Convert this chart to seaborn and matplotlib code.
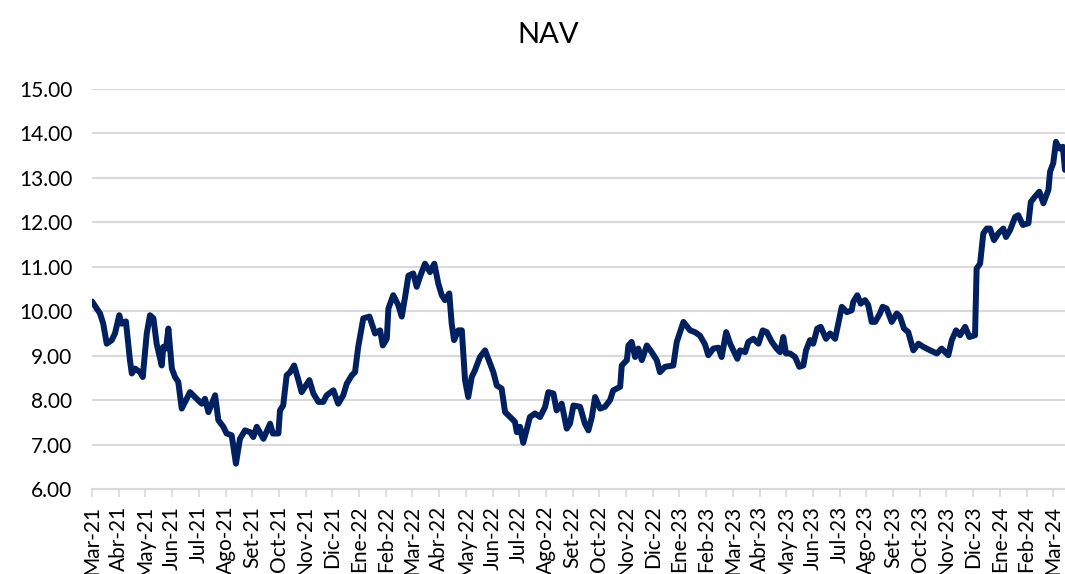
import pandas as pd
import seaborn as sns
import matplotlib.pyplot as plt

# -------------------- data -------------------- #
# x position in months since Mar-21, NAV value
months = [
    0.00, 0.30, 0.42, 0.55, 0.74, 0.86, 1.02, 1.11, 1.27, 1.42, 1.49, 1.61, 1.80, 1.90,
    2.05, 2.17, 2.30, 2.42, 2.61, 2.67, 2.77, 2.86, 2.99, 3.11, 3.23, 3.36, 3.67, 3.92,
    4.11, 4.23, 4.36, 4.61, 4.73, 4.92, 5.04, 5.23, 5.39, 5.54, 5.73, 5.92, 6.04, 6.17,
    6.42, 6.67, 6.77, 6.98, 7.04, 7.16, 7.29, 7.42, 7.57, 7.73, 7.85, 7.98, 8.14, 8.29,
    8.48, 8.66, 8.79, 9.04, 9.22, 9.41, 9.54, 9.73, 9.85, 9.97, 10.16, 10.39, 10.60, 10.79,
    10.89, 11.04, 11.10, 11.28, 11.47, 11.60, 11.72, 11.85, 12.03, 12.16, 12.28, 12.47,
    12.66, 12.82, 12.97, 13.10, 13.22, 13.38, 13.47, 13.56, 13.72, 13.85, 13.97, 14.09,
    14.22, 14.34, 14.53, 14.72, 14.84, 15.03, 15.16, 15.34, 15.47, 15.66, 15.84, 15.91,
    16.03, 16.15, 16.40, 16.59, 16.78, 16.97, 17.09, 17.28, 17.40, 17.59, 17.78, 17.90,
    18.03, 18.28, 18.46, 18.59, 18.72, 18.84, 19.03, 19.21, 19.40, 19.52, 19.78, 19.84,
    20.03, 20.09, 20.21, 20.34, 20.46, 20.59, 20.78, 20.96, 21.15, 21.27, 21.46, 21.77,
    21.90, 22.15, 22.40, 22.58, 22.77, 22.96, 23.08, 23.27, 23.46, 23.58, 23.75, 23.90,
    24.02, 24.17, 24.27, 24.46, 24.58, 24.77, 24.96, 25.12, 25.27, 25.46, 25.64, 25.77,
    25.89, 25.99, 26.14, 26.33, 26.49, 26.64, 26.74, 26.89, 27.01, 27.16, 27.29, 27.49,
    27.64, 27.83, 27.95, 28.08, 28.27, 28.45, 28.51, 28.66, 28.79, 28.95, 29.07, 29.20,
    29.33, 29.51, 29.61, 29.76, 29.95, 30.14, 30.26, 30.41, 30.57, 30.76, 30.95, 31.13,
    31.39, 31.64, 31.82, 32.07, 32.20, 32.36, 32.51, 32.70, 32.86, 33.07, 33.13, 33.26,
    33.38, 33.51, 33.63, 33.78, 33.94, 34.13, 34.23, 34.38, 34.57, 34.69, 34.86, 35.07,
    35.16, 35.32, 35.48, 35.63, 35.82, 35.88, 36.00, 36.10, 36.23, 36.36, 36.44,
]
nav = [
    10.22, 9.95, 9.72, 9.27, 9.35, 9.50, 9.91, 9.72, 9.77, 8.90, 8.60, 8.71, 8.63, 8.52,
    9.50, 9.91, 9.84, 9.27, 8.78, 9.20, 9.16, 9.61, 8.71, 8.52, 8.41, 7.81, 8.18, 8.03,
    7.92, 8.03, 7.73, 8.11, 7.55, 7.40, 7.25, 7.21, 6.57, 7.13, 7.32, 7.28, 7.17, 7.40,
    7.13, 7.47, 7.25, 7.25, 7.77, 7.88, 8.56, 8.63, 8.78, 8.45, 8.18, 8.30, 8.45, 8.15,
    7.96, 7.96, 8.11, 8.22, 7.92, 8.11, 8.37, 8.56, 8.63, 9.20, 9.84, 9.88, 9.50, 9.57,
    9.23, 9.38, 10.06, 10.36, 10.14, 9.88, 10.30, 10.80, 10.85, 10.55, 10.77, 11.07,
    10.88, 11.07, 10.62, 10.36, 10.25, 10.40, 9.72, 9.35, 9.57, 9.57, 8.45, 8.07,
    8.52, 8.67, 8.97, 9.12, 8.93, 8.63, 8.33, 8.26, 7.73, 7.62, 7.51, 7.28,
    7.40, 7.04, 7.62, 7.70, 7.62, 7.85, 8.18, 8.15, 7.77, 7.92, 7.36, 7.47,
    7.88, 7.85, 7.47, 7.32, 7.62, 8.07, 7.81, 7.85, 8.00, 8.22, 8.30, 8.78,
    8.90, 9.23, 9.31, 8.97, 9.16, 8.90, 9.23, 9.08, 8.90, 8.63, 8.75, 8.78,
    9.31, 9.76, 9.57, 9.53, 9.45, 9.25, 9.01, 9.16, 9.18, 8.97, 9.53, 9.27,
    9.12, 8.93, 9.12, 9.08, 9.31, 9.38, 9.27, 9.57, 9.53, 9.31, 9.16, 9.08,
    9.42, 9.05, 9.05, 8.97, 8.75, 8.78, 9.12, 9.35, 9.27, 9.61, 9.65, 9.38,
    9.50, 9.38, 9.72, 10.10, 9.98, 10.02, 10.21, 10.36, 10.17, 10.25, 10.14, 9.76,
    9.76, 9.95, 10.10, 10.06, 9.76, 9.95, 9.88, 9.61, 9.53, 9.12, 9.27, 9.20,
    9.12, 9.05, 9.16, 9.01, 9.35, 9.57, 9.46, 9.65, 9.42, 9.46, 10.96, 11.07,
    11.75, 11.86, 11.86, 11.60, 11.75, 11.86, 11.67, 11.82, 12.12, 12.16, 11.94, 11.98,
    12.46, 12.58, 12.69, 12.43, 12.73, 13.14, 13.33, 13.81, 13.66, 13.70, 13.18,
]
month_labels = [
    "Mar-21", "Abr-21", "May-21", "Jun-21", "Jul-21", "Ago-21", "Set-21", "Oct-21",
    "Nov-21", "Dic-21", "Ene-22", "Feb-22", "Mar-22", "Abr-22", "May-22", "Jun-22",
    "Jul-22", "Ago-22", "Set-22", "Oct-22", "Nov-22", "Dic-22", "Ene-23", "Feb-23",
    "Mar-23", "Abr-23", "May-23", "Jun-23", "Jul-23", "Ago-23", "Set-23", "Oct-23",
    "Nov-23", "Dic-23", "Ene-24", "Feb-24", "Mar-24",
]
y_ticks = [6, 7, 8, 9, 10, 11, 12, 13, 14, 15]

df = pd.DataFrame({"month": months, "nav": nav})

# -------------------- plot -------------------- #
sns.set_style("white")
plt.rcParams["font.family"] = ["Lato", "DejaVu Sans"]

grid_grey = "#d9d9d9"
navy = "#002060"

fig = plt.figure(figsize=(10.65, 5.74), dpi=100)
ax = fig.add_axes([0.0864, 0.148, 0.9136, 0.697])

sns.lineplot(data=df, x="month", y="nav", color=navy, linewidth=4.3, ax=ax,
             solid_capstyle="round", solid_joinstyle="round", zorder=3)

ax.set_xlim(0, 36.44)
ax.set_ylim(6, 15)
ax.set_yticks(y_ticks)
ax.set_yticklabels([f"{v:.2f}" for v in y_ticks])
ax.set_xticks(range(len(month_labels)))
ax.set_xticklabels(month_labels, rotation=90)

ax.yaxis.grid(True, color=grid_grey, linewidth=1.5)
ax.set_axisbelow(True)
for side in ["left", "right", "top"]:
    ax.spines[side].set_visible(False)
ax.spines["bottom"].set_color(grid_grey)
ax.spines["bottom"].set_linewidth(1.5)

ax.tick_params(axis="y", length=0, pad=14, labelsize=15, labelcolor="black")
ax.tick_params(axis="x", length=6, width=1.2, color=grid_grey, pad=6,
               labelsize=15, labelcolor="black", bottom=True)
ax.set_xlabel("")
ax.set_ylabel("")

fig.text(0.515, 0.939, "NAV", ha="center", va="center", fontsize=21, color="black")

plt.savefig("out.png", dpi=100)
